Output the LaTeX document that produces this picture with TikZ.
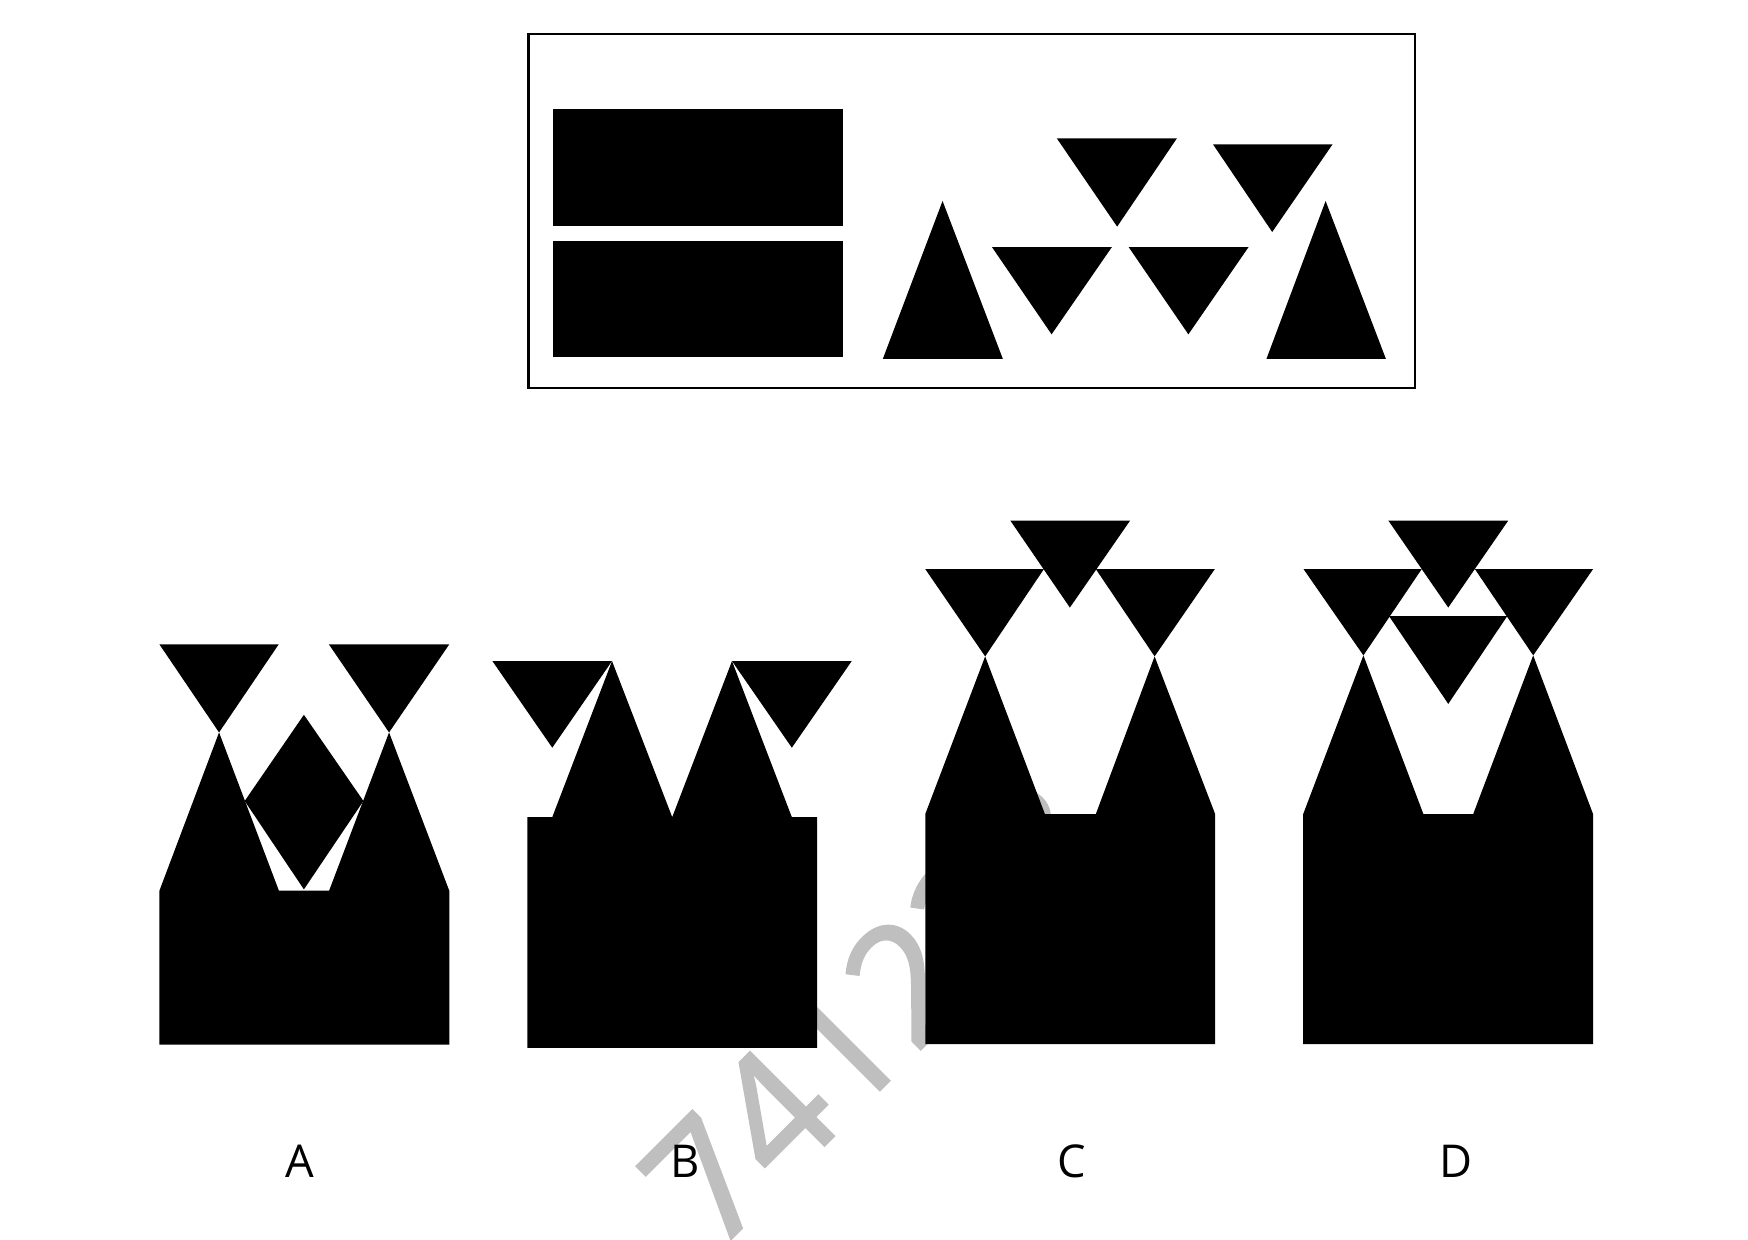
\documentclass[tikz,border=0pt]{standalone}
\usepackage{fontspec}
\setmainfont{Open Sans}
\newfontfamily\wmfont{Open Sans}[FakeBold=1.6]

\begin{document}
\begin{tikzpicture}[
  x=0.5pt, y=-0.5pt,
  blk/.style={fill=black},
  boxline/.style={draw=black, line width=1pt},
  lbl/.style={font=\fontsize{20.3}{24}\selectfont, inner sep=0pt},
  wmark/.style={font=\wmfont\fontsize{74}{80}\selectfont, text=black!25, inner sep=0pt, rotate=45}
]
\useasboundingbox (0,0) rectangle (1568,1112);
% watermark, lies under the figures
\node[wmark, anchor=base west] (wm) at (641,1126) {741238};

% question panel
\draw[boxline] (474,30.5) rectangle (1269,348.3);
\fill[blk] (495.6,98.1) rectangle (755.8,202.4);
\fill[blk] (495.6,215.9) rectangle (755.8,320.5);
\fill[blk] (845.5,180.3) -- (899.6,322) -- (791.9,322) -- cycle;
\fill[blk] (948,124.1) -- (1055.7,124.1) -- (1002.1,203.3) -- cycle;
\fill[blk] (1088.1,129.5) -- (1195.3,129.5) -- (1141.2,208.1) -- cycle;
\fill[blk] (889.8,221.6) -- (997.4,221.6) -- (943.3,299.9) -- cycle;
\fill[blk] (1012.4,221.6) -- (1120,221.6) -- (1066,299.9) -- cycle;
\fill[blk] (1189.1,180.3) -- (1243.2,322) -- (1136,322) -- cycle;

% option A
\fill[blk] (143,578) -- (250,578) -- (196.5,657) -- cycle;
\fill[blk] (295,578) -- (403,578) -- (349,657) -- cycle;
\fill[blk] (143,937) -- (143,799) -- (196.5,657) -- (250.2,799) -- (295.2,799)
  -- (349,657) -- (403,799) -- (403,937) -- cycle;
\fill[blk] (272.6,641.2) -- (326,718.5) -- (272.6,797.8) -- (219.5,718.5) -- cycle;

% option B
\fill[blk] (441.7,593) -- (549,593) -- (495.4,670.7) -- cycle;
\fill[blk] (656.6,593) -- (764,593) -- (710.3,670.7) -- cycle;
\fill[blk] (473,940) -- (473,733) -- (495.4,733) -- (549,593) -- (603,733)
  -- (656.6,593) -- (710.3,733) -- (733,733) -- (733,940) -- cycle;

% option C
\fill[blk] (906.3,467) -- (1013.7,467) -- (959.7,545) -- cycle;
\fill[blk] (830,510.5) -- (936.4,510.5) -- (883.7,588.8) -- cycle;
\fill[blk] (983,510.5) -- (1089.7,510.5) -- (1035.7,588.8) -- cycle;
\fill[blk] (830,936.5) -- (830,730.2) -- (883.7,588.8) -- (937.3,730.2) -- (983,730.2)
  -- (1035.7,588.8) -- (1090,730.2) -- (1090,936.5) -- cycle;

% option D
\fill[blk] (1245.4,467) -- (1352.9,467) -- (1299.1,545) -- cycle;
\fill[blk] (1169.3,510.5) -- (1275.3,510.5) -- (1223,587.9) -- cycle;
\fill[blk] (1323,510.5) -- (1429,510.5) -- (1375.3,587.9) -- cycle;
\fill[blk] (1246,552.7) -- (1352,552.7) -- (1299.1,631.4) -- cycle;
\fill[blk] (1169,936.5) -- (1169,730.2) -- (1223,587.9) -- (1276.8,730.2) -- (1321.5,730.2)
  -- (1375.3,587.9) -- (1429,730.2) -- (1429,936.5) -- cycle;

% answer letters
\node[lbl] (labA) at (268.8,1041.7) {A};
\node[lbl] (labB) at (614.5,1041.7) {B};
\node[lbl] (labC) at (961.3,1041.7) {C};
\node[lbl] (labD) at (1306.4,1041.7) {D};
\end{tikzpicture}
\end{document}
